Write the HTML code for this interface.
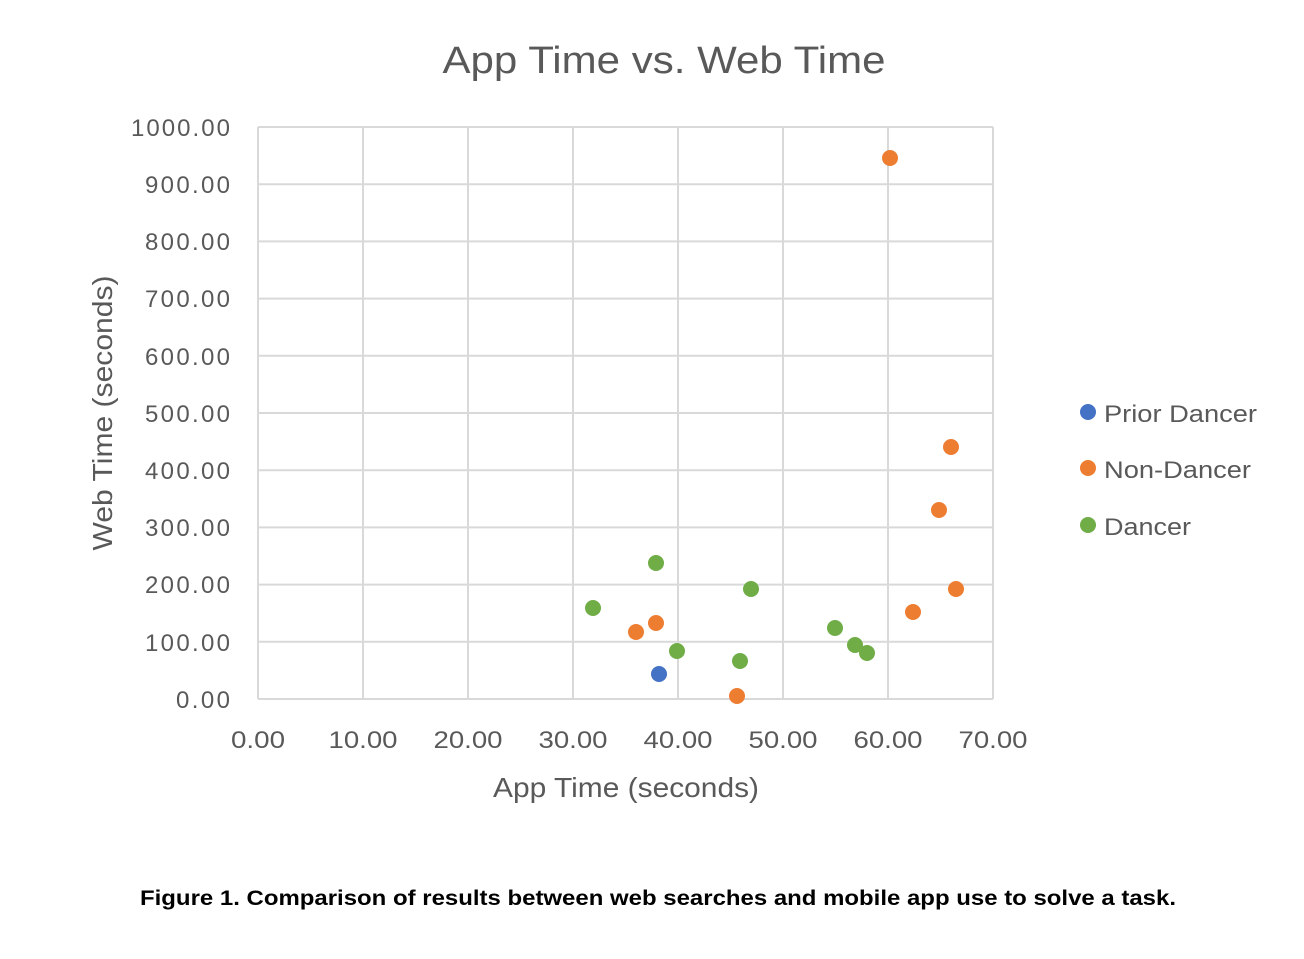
<!DOCTYPE html>
<html><head><meta charset="utf-8"><style>
html,body{margin:0;padding:0;background:#fff;}
svg text{font-family:"Liberation Sans","DejaVu Sans",sans-serif;}
</style></head><body>
<svg width="1304" height="954" viewBox="0 0 1304 954" xmlns="http://www.w3.org/2000/svg">
<rect width="1304" height="954" fill="#fff"/>
<text x="664" y="73" text-anchor="middle" font-size="38" fill="#595959" textLength="443" lengthAdjust="spacingAndGlyphs">App Time vs. Web Time</text>
<g stroke="#d9d9d9" stroke-width="2" fill="none">
<line x1="258" y1="127" x2="993" y2="127"/>
<line x1="258" y1="184.2" x2="993" y2="184.2"/>
<line x1="258" y1="241.4" x2="993" y2="241.4"/>
<line x1="258" y1="298.6" x2="993" y2="298.6"/>
<line x1="258" y1="355.8" x2="993" y2="355.8"/>
<line x1="258" y1="413" x2="993" y2="413"/>
<line x1="258" y1="470.2" x2="993" y2="470.2"/>
<line x1="258" y1="527.4" x2="993" y2="527.4"/>
<line x1="258" y1="584.6" x2="993" y2="584.6"/>
<line x1="258" y1="641.8" x2="993" y2="641.8"/>
<line x1="258" y1="699" x2="993" y2="699"/>
<line x1="258" y1="127" x2="258" y2="699"/>
<line x1="363" y1="127" x2="363" y2="699"/>
<line x1="468" y1="127" x2="468" y2="699"/>
<line x1="573" y1="127" x2="573" y2="699"/>
<line x1="678" y1="127" x2="678" y2="699"/>
<line x1="783" y1="127" x2="783" y2="699"/>
<line x1="888" y1="127" x2="888" y2="699"/>
<line x1="993" y1="127" x2="993" y2="699"/>
</g>
<g font-size="24" fill="#595959" text-anchor="end" lengthAdjust="spacingAndGlyphs">
<text x="230" y="136" textLength="99">1000.00</text>
<text x="230" y="193" textLength="85">900.00</text>
<text x="230" y="250" textLength="85">800.00</text>
<text x="230" y="307" textLength="85">700.00</text>
<text x="230" y="365" textLength="85">600.00</text>
<text x="230" y="422" textLength="85">500.00</text>
<text x="230" y="479" textLength="85">400.00</text>
<text x="230" y="536" textLength="85">300.00</text>
<text x="230" y="593" textLength="85">200.00</text>
<text x="230" y="651" textLength="85">100.00</text>
<text x="230" y="708" textLength="54">0.00</text>
</g>
<g font-size="24" fill="#595959" text-anchor="middle">
<text x="258" y="748" textLength="54" lengthAdjust="spacingAndGlyphs">0.00</text>
<text x="363" y="748" textLength="69" lengthAdjust="spacingAndGlyphs">10.00</text>
<text x="468" y="748" textLength="69" lengthAdjust="spacingAndGlyphs">20.00</text>
<text x="573" y="748" textLength="69" lengthAdjust="spacingAndGlyphs">30.00</text>
<text x="678" y="748" textLength="69" lengthAdjust="spacingAndGlyphs">40.00</text>
<text x="783" y="748" textLength="69" lengthAdjust="spacingAndGlyphs">50.00</text>
<text x="888" y="748" textLength="69" lengthAdjust="spacingAndGlyphs">60.00</text>
<text x="993" y="748" textLength="69" lengthAdjust="spacingAndGlyphs">70.00</text>
</g>
<text x="626" y="797" text-anchor="middle" font-size="28" fill="#595959" textLength="266" lengthAdjust="spacingAndGlyphs">App Time (seconds)</text>
<text transform="translate(112,413) rotate(-90)" text-anchor="middle" font-size="28" fill="#595959" textLength="275" lengthAdjust="spacingAndGlyphs">Web Time (seconds)</text>
<g fill="#ed7d31">
<circle cx="890" cy="158" r="8"/><circle cx="951" cy="447" r="8"/><circle cx="939" cy="510" r="8"/>
<circle cx="956" cy="589" r="8"/><circle cx="913" cy="612" r="8"/><circle cx="656" cy="623" r="8"/>
<circle cx="636" cy="632" r="8"/><circle cx="737" cy="696" r="8"/>
</g>
<g fill="#70ad47">
<circle cx="656" cy="563" r="8"/><circle cx="751" cy="589" r="8"/><circle cx="593" cy="608" r="8"/>
<circle cx="677" cy="651" r="8"/><circle cx="740" cy="661" r="8"/><circle cx="835" cy="628" r="8"/>
<circle cx="855" cy="645" r="8"/><circle cx="867" cy="653" r="8"/>
</g>
<circle cx="659" cy="674" r="8" fill="#4472c4"/>
<circle cx="1088" cy="412" r="8" fill="#4472c4"/>
<circle cx="1088" cy="468" r="8" fill="#ed7d31"/>
<circle cx="1088" cy="525" r="8" fill="#70ad47"/>
<g font-size="24" fill="#595959">
<text x="1104" y="422" textLength="153" lengthAdjust="spacingAndGlyphs">Prior Dancer</text>
<text x="1104" y="478" textLength="147" lengthAdjust="spacingAndGlyphs">Non-Dancer</text>
<text x="1104" y="535" textLength="87" lengthAdjust="spacingAndGlyphs">Dancer</text>
</g>
<text x="658" y="905" text-anchor="middle" font-size="21" font-weight="bold" fill="#000" textLength="1036" lengthAdjust="spacingAndGlyphs">Figure 1. Comparison of results between web searches and mobile app use to solve a task.</text>
</svg>
</body></html>
